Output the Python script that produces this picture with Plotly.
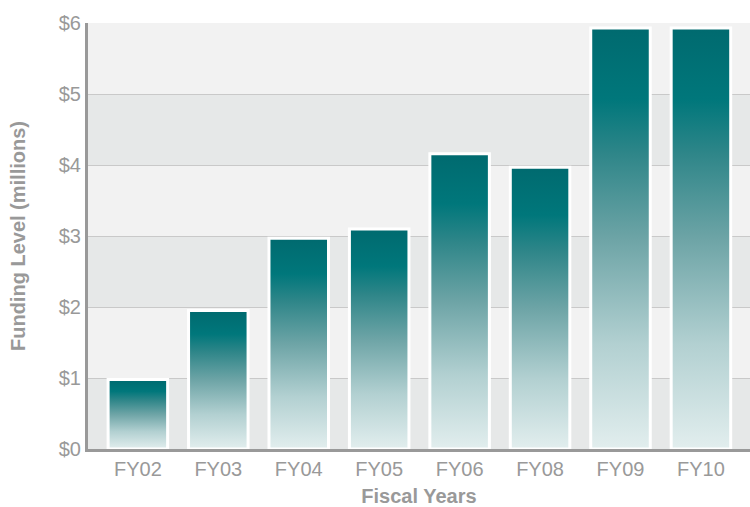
import plotly.graph_objects as go

categories = ["FY02", "FY03", "FY04", "FY05", "FY06", "FY08", "FY09", "FY10"]
funding = [0.98, 1.95, 2.97, 3.10, 4.16, 3.97, 5.93, 5.93]
y_ticks = [0, 1, 2, 3, 4, 5, 6]
y_ticklabels = ["$0", "$1", "$2", "$3", "$4", "$5", "$6"]

BAR_W = 0.74
gradient = [[0.0, "#e2eeee"], [0.25, "#b2d0d1"], [0.5, "#6da4a6"],
            [0.7, "#2f8689"], [0.83, "#00777b"], [1.0, "#006a6f"]]

fig = go.Figure()
for i, (c, v) in enumerate(zip(categories, funding)):
    fig.add_trace(go.Scatter(
        x=[i - BAR_W / 2, i - BAR_W / 2, i + BAR_W / 2, i + BAR_W / 2, i - BAR_W / 2],
        y=[0, v, v, 0, 0],
        mode="lines", fill="toself",
        line=dict(color="white", width=3),
        fillgradient=dict(type="vertical", colorscale=gradient, start=0, stop=v),
        hoverinfo="skip", showlegend=False, name=c,
    ))

shapes = []
for k in range(0, 6, 2):
    shapes.append(dict(type="rect", xref="paper", yref="y", x0=0, x1=1, y0=k, y1=k + 1,
                       fillcolor="#e6e8e8", line=dict(width=0), layer="below"))

fig.update_layout(
    width=750, height=507,
    margin=dict(l=88, r=0, t=23, b=58),
    paper_bgcolor="white", plot_bgcolor="#f2f2f2",
    shapes=shapes,
    font=dict(family="Liberation Sans, Arial, sans-serif", color="#999999", size=20),
    xaxis=dict(range=[-0.62, 7.61], tickvals=list(range(len(categories))), ticktext=categories,
               showgrid=False, zeroline=False, showline=True, linecolor="#999999", linewidth=3,
               ticks="", tickfont=dict(size=20, color="#999999"),
               title=dict(text="<b>Fiscal Years</b>", font=dict(size=20, color="#999999"), standoff=10)),
    yaxis=dict(range=[0, 6], tickvals=y_ticks, ticktext=y_ticklabels,
               showgrid=True, gridcolor="#c9c9c9", gridwidth=1, zeroline=False,
               showline=True, linecolor="#999999", linewidth=3, ticks="",
               tickfont=dict(size=20, color="#999999"),
               title=dict(text="<b>Funding Level (millions)</b>", font=dict(size=20, color="#999999"), standoff=28)),
)

fig.write_html("out.html")
